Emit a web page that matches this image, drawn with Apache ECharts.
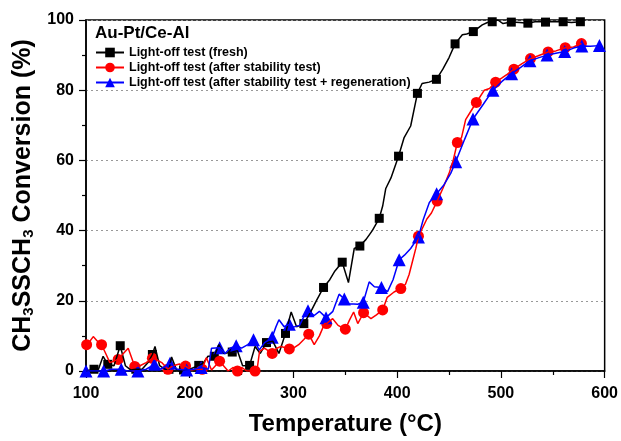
<!DOCTYPE html>
<html>
<head>
<meta charset="utf-8">
<script src="https://cdn.jsdelivr.net/npm/echarts@6/dist/echarts.min.js"></script>
<style>
  html, body { margin: 0; padding: 0; background: #fff; }
  #main { width: 621px; height: 441px; }
</style>
</head>
<body>
<div id="main"></div>
<script>
// series names
var names = [
    'Light-off test (fresh)',
    'Light-off test (after stability test)',
    'Light-off test (after stability test + regeneration)'
];

// fresh: [T, conversion]
var freshLine = [[100,0],[107.7,0.5],[112,0.5],[116.5,4.2],[121,1.9],[127,1.5],[133,7.2],[138,1.5],[143,0.3],[148,0.5],[154,0.5],[160,2.5],[164,4.7],[166.5,7],[171,1.5],[176,0.5],[180,0.5],[182.5,4],[187,0.5],[194,0.3],[200,0.5],[208.7,1.6],[213,2.2],[217.6,4.2],[223.7,4.2],[228,7.5],[233,5],[241,5.4],[246,5.8],[251,1.5],[257.7,1.6],[263,7],[268,5],[274,8.1],[280,8.5],[286,5],[292.3,10.7],[297.8,16.8],[303,12.6],[310,13.5],[316,16.5],[322,20],[329,23.8],[335,26],[340,28.5],[347,31],[353,25.2],[358.6,34.9],[364,35.6],[370,37.5],[376,40],[382.7,43.5],[386,47],[389,52],[394,55],[401.3,61.2],[406.7,66.5],[413,69.8],[419.5,79.1],[424,81.9],[430.8,82.3],[437.8,83.1],[444,86],[450,89.3],[455.8,93.2],[462.8,95.8],[467,96],[473.4,96.7],[482,98.6],[487,99.3],[491.6,99.5],[497,100],[502,99],[510,99.4],[518,99.3],[526,99.1],[534,99.6],[543,99.4],[551,99.6],[560,99.5],[568,99.3],[576.6,99.5]];
var freshMarks = [[107.7,0.5],[121,1.9],[133,7.2],[148,0.5],[164,4.7],[180,0.5],[194,0.3],[208.7,1.6],[223.7,4.2],[241,5.4],[257.7,1.6],[274,8.1],[292.3,10.7],[310,13.5],[329,23.8],[347,31],[364,35.6],[382.7,43.5],[401.3,61.2],[419.5,79.1],[437.8,83.1],[455.8,93.2],[473.4,96.7],[491.6,99.5],[510,99.4],[526,99.1],[543,99.4],[560,99.5],[576.6,99.5]];

// after stability test
var agedLine = [[100,7],[100.6,7.5],[107,9.8],[111,8.5],[115,7.5],[119,5],[123,2.4],[131,3.3],[136,5],[140.7,6.5],[147,1.3],[152,1.5],[158,2.4],[164,3.6],[168,3.2],[173,2.4],[179,0.5],[184,1.5],[190,2],[196,1.4],[201,0.3],[206,0.5],[212,0.5],[216,3.8],[221,0.3],[228.8,2.8],[237,0],[242,1],[246,0],[250,1],[255,0],[263,0],[265,0.5],[267.3,5.6],[272,6.5],[279.5,5],[284,6.5],[288,7],[296,6.3],[300,6.5],[305,7.5],[310,9],[314.7,10.5],[320,7.5],[325,10],[330,13.5],[332,13.5],[337.8,14.9],[343,13],[350,11.9],[354,14.5],[358,16.8],[362,13.5],[367.6,16.6],[374.7,14.9],[380,16],[386,17.4],[390.4,21],[397,22.5],[403.5,23.5],[408,24.7],[411.5,27.5],[414.7,31.2],[418,35],[420.5,38.4],[424,40.5],[428.6,43.3],[433,45],[438.5,48.4],[444,52],[450,56.3],[454,60],[458,65.1],[462,66.5],[466,71.6],[471,74],[476.3,76.5],[484,80],[489,80.5],[494.9,82.3],[501,83.5],[506,84.5],[512.5,86],[520,87.5],[528.5,89],[536,89.8],[545.5,90.9],[553,91.2],[562,92.1],[570,92.3],[577.6,93.3]];
var agedMarks = [[100.6,7.5],[115,7.5],[131,3.3],[147,1.3],[164,3.6],[179,0.5],[196,1.4],[212,0.5],[228.8,2.8],[246,0],[263,0],[279.5,5],[296,6.3],[314.7,10.5],[332,13.5],[350,11.9],[367.6,16.6],[386,17.4],[403.5,23.5],[420.5,38.4],[438.5,48.4],[458,65.1],[476.3,76.5],[494.9,82.3],[512.5,86],[528.5,89],[545.5,90.9],[562,92.1],[577.6,93.3]];

// after stability test + regeneration
var regenLine = [[100,0],[117,0],[125,0.5],[134,0.5],[140,0],[150,0],[158,0.5],[166,1.9],[172,0.5],[181,2.2],[188,0.5],[197,0.3],[204,0.5],[211,1],[218,0.5],[221,6.5],[228.8,6.6],[234,5],[239,6.5],[244.8,7.2],[250,6.5],[256,7.5],[261.5,8.9],[267,6],[272,8],[279.5,9.6],[283,12.5],[286,14.6],[291,12.6],[296,13.3],[300,12.5],[305.8,13],[310,15.5],[314,17.2],[320,15.8],[325,17],[331.4,15.2],[338,17],[344,21.9],[349,20.5],[353,19.1],[358,19.1],[362,19],[367.3,19.6],[373,25.4],[378,24],[384.8,23.8],[390.7,22.6],[396,26],[401.9,31.7],[407,33],[413,34.9],[420.5,38.2],[425,43],[431,48],[438,50.5],[445,53],[451.6,56.3],[456.4,59.6],[465,66],[473.1,71.8],[483,76],[492.3,80],[501,82.5],[510.3,84.7],[519,86.5],[528,88.4],[536,89.2],[544.5,90],[553,90.5],[561.5,91],[570,92],[578,92.6],[586,92.5],[595,92.7]];
var regenMarks = [[100,0],[117,0],[134,0.5],[150,0],[166,1.9],[181,2.2],[197,0.3],[211,1],[228.8,6.6],[244.8,7.2],[261.5,8.9],[279.5,9.6],[296,13.3],[314,17.2],[331.4,15.2],[349,20.5],[367.3,19.6],[384.8,23.8],[401.9,31.7],[420.5,38.2],[438,50.5],[456.4,59.6],[473.1,71.8],[492.3,80],[510.3,84.7],[528,88.4],[544.5,90],[561.5,91],[578,92.6],[595,92.7]];

var chart = echarts.init(document.getElementById('main'));
var font = 'Liberation Sans, Arial, sans-serif';

// line + its markers share one legend entry
function makePair(name, line, marks, color, symbol, size) {
    return [{
        name: name,
        type: 'line',
        data: line,
        symbol: symbol,
        showSymbol: false,
        lineStyle: { color: color, width: 1.5 },
        itemStyle: { color: color },
        silent: true
    }, {
        name: name,
        type: 'scatter',
        data: marks,
        symbol: symbol,
        symbolSize: size,
        itemStyle: { color: color, opacity: 1 },
        silent: true
    }];
}

var series = []
    .concat(makePair(names[0], freshLine, freshMarks, '#000000', 'rect', 9))
    .concat(makePair(names[1], agedLine, agedMarks, '#ff0000', 'circle', 11))
    .concat(makePair(names[2], regenLine, regenMarks, '#0000ff', 'triangle', 13));

var option = {
    animation: false,
    backgroundColor: '#fff',
    title: {
        text: 'Au-Pt/Ce-Al',
        left: 90,
        top: 20,
        textStyle: { fontFamily: font, fontSize: 17, fontWeight: 'bold', color: '#000' }
    },
    legend: {
        data: names,
        orient: 'vertical',
        left: 90,
        top: 41,
        itemWidth: 28,
        itemHeight: 12,
        itemGap: 2,
        textStyle: { fontFamily: font, fontSize: 12.5, fontWeight: 'bold', color: '#000' }
    },
    grid: {
        left: 86,
        right: 15,
        top: 20,
        bottom: 63,
        show: true,
        borderColor: '#000',
        borderWidth: 1.5
    },
    xAxis: {
        type: 'value',
        min: 100,
        max: 600,
        interval: 100,
        name: 'Temperature (°C)',
        nameLocation: 'middle',
        nameGap: 41,
        nameTextStyle: { fontFamily: font, fontSize: 24, fontWeight: 'bold', color: '#000' },
        axisLine: { lineStyle: { color: '#000', width: 1.5 } },
        axisTick: { length: 7, lineStyle: { color: '#000', width: 1.2 } },
        minorTick: { show: true, splitNumber: 2, length: 4, lineStyle: { color: '#000', width: 1.2 } },
        axisLabel: { fontFamily: font, fontSize: 16, fontWeight: 'bold', color: '#000', margin: 15 },
        splitLine: { show: false }
    },
    yAxis: {
        type: 'value',
        min: 0,
        max: 100,
        interval: 20,
        name: '{n|CH}{s|3}{n|SSCH}{s|3}{n| Conversion (%)}',
        nameLocation: 'middle',
        nameGap: 48,
        nameTextStyle: {
            fontFamily: font, fontSize: 25, fontWeight: 'bold', color: '#000',
            rich: {
                n: { fontFamily: font, fontSize: 25, fontWeight: 'bold', color: '#000' },
                s: { fontFamily: font, fontSize: 15, fontWeight: 'bold', color: '#000', verticalAlign: 'bottom', padding: [11, 0, 0, 0] }
            }
        },
        axisLine: { lineStyle: { color: '#000', width: 1.5 } },
        axisTick: { length: 7, lineStyle: { color: '#000', width: 1.2 } },
        minorTick: { show: true, splitNumber: 2, length: 4, lineStyle: { color: '#000', width: 1.2 } },
        axisLabel: { fontFamily: font, fontSize: 16, fontWeight: 'bold', color: '#000', margin: 12 },
        splitLine: { show: true, lineStyle: { color: '#999', type: [2, 3], width: 1 } }
    },
    series: series
};

chart.setOption(option);
</script>
</body>
</html>
